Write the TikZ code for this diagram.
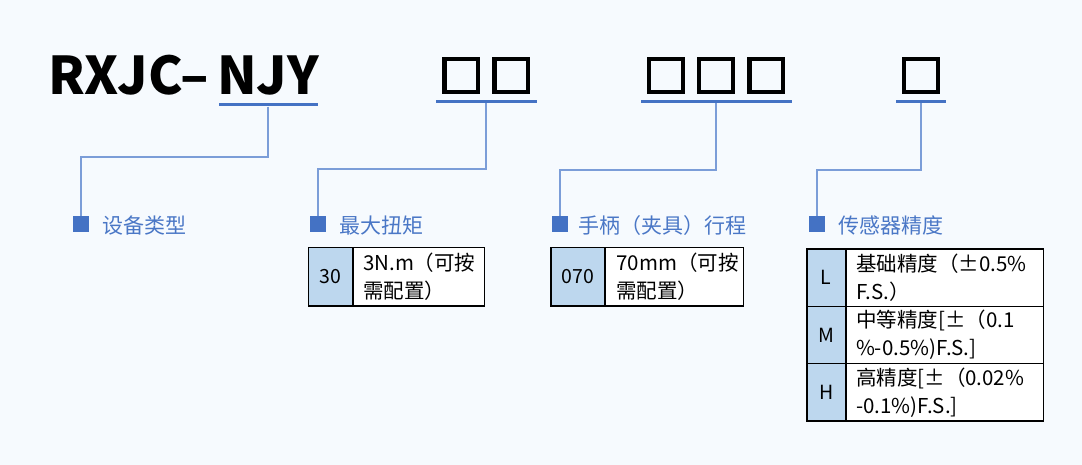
\documentclass[tikz,border=0pt]{standalone}
\usepackage{fontspec}
\newfontfamily\cjk{Noto Sans CJK SC}
\definecolor{bgcol}{HTML}{F6FAFE}
\definecolor{accent}{HTML}{4472C4}
\definecolor{conncol}{HTML}{7B9DD8}
\definecolor{labelcol}{HTML}{4A77C6}
\definecolor{cellcol}{HTML}{BDD7EE}
\begin{document}
\begin{tikzpicture}[x=1pt,y=-1pt,
  titletext/.style={font=\cjk\bfseries\fontsize{52}{56}\selectfont,inner sep=0pt,anchor=base west,text=black},
  ubar/.style={fill=accent,draw=none,minimum height=3pt,inner sep=0pt},
  connector/.style={draw=conncol,line width=1.8pt},
  marker/.style={fill=accent,draw=none,minimum size=16pt,inner sep=0pt},
  catlabel/.style={text=labelcol,font=\cjk\fontsize{21}{24}\selectfont,anchor=base west,inner sep=0pt},
  slot/.style={draw=black,line width=4.2pt,minimum width=33.5pt,minimum height=32.7pt,inner sep=0pt},
  codecell/.style={draw=black,line width=1.6pt,fill=cellcol,inner sep=0pt,font=\cjk\fontsize{19.5}{22}\selectfont},
  desccell/.style={draw=black,line width=1.6pt,fill=white,inner sep=0pt},
  desctext/.style={anchor=west,inner sep=0pt,align=left,font=\cjk\fontsize{20.5}{28}\selectfont},
]
\fill[bgcol] (0,0) rectangle (1082,465);
\useasboundingbox (0,0) rectangle (1082,465);

% title
\node[titletext] (tA) at (48,95) {RXJC–};
\node[titletext] (tB) at (217,95) {NJY};

% slots
\node[slot] (s21) at (461.2,75.7) {};
\node[slot] (s22) at (511.2,75.7) {};
\node[slot] (s31) at (665.9,75.5) {};
\node[slot] (s32) at (715.9,75.5) {};
\node[slot] (s33) at (766.2,75.5) {};
\node[slot] (s41) at (920.9,75.5) {};

% underlines
\node[ubar,minimum width=98.7pt] (u1) at (268.35,105) {};
\node[ubar,minimum width=100.7pt] (u2) at (486.35,101.3) {};
\node[ubar,minimum width=150.7pt] (u3) at (716.35,101.3) {};
\node[ubar,minimum width=50pt] (u4) at (921,101.3) {};

% markers
\node[marker] (m1) at (81.2,224.5) {};
\node[marker] (m2) at (318,224.5) {};
\node[marker] (m3) at (559.8,224.5) {};
\node[marker] (m4) at (817,224.5) {};

% bends
\coordinate (k1) at (81.2,157.3);
\coordinate (k2) at (318,169.2);
\coordinate (k3) at (559.8,170);
\coordinate (k4) at (817,170);

\draw[connector] (u1.south) |- (k1) -- (m1.north);
\draw[connector] (u2.south) |- (k2) -- (m2.north);
\draw[connector] (u3.south) |- (k3) -- (m3.north);
\draw[connector] (u4.south) |- (k4) -- (m4.north);

% labels
\node[catlabel] (l1) at (102.3,233.5) {设备类型};
\node[catlabel] (l2) at (339,233.5) {最大扭矩};
\node[catlabel] (l3) at (578.3,233.5) {手柄（夹具）行程};
\node[catlabel] (l4) at (838.3,233.5) {传感器精度};

% table 1
\node[codecell,minimum width=44.4pt,minimum height=58.3pt] (a1) at (330.5,276.85) {30};
\node[desccell,minimum width=131.6pt,minimum height=58.3pt] (b1) at (418.5,276.85) {};
\node[desctext] (bt1) at ([xshift=11pt]b1.west) {3N.m（可按\\需配置）};

% table 2
\node[codecell,minimum width=54.3pt,minimum height=58.3pt] (a2) at (577.85,276.85) {070};
\node[desccell,minimum width=138.3pt,minimum height=58.3pt] (b2) at (674.15,276.85) {};
\node[desctext] (bt2) at ([xshift=12pt]b2.west) {70mm（可按\\需配置）};

% table 3
\node[codecell,minimum width=39pt,minimum height=57.3pt] (aL) at (826.2,277.65) {L};
\node[desccell,minimum width=197.6pt,minimum height=57.3pt] (bL) at (944.5,277.65) {};
\node[desctext] (btL) at ([xshift=11pt]bL.west) {基础精度（±0.5\%\\F.S.）};

\node[codecell,minimum width=39pt,minimum height=57.3pt] (aM) at (826.2,334.95) {M};
\node[desccell,minimum width=197.6pt,minimum height=57.3pt] (bM) at (944.5,334.95) {};
\node[desctext] (btM) at ([xshift=11pt]bM.west) {中等精度[±（0.1\\\%-0.5\%)F.S.]};

\node[codecell,minimum width=39pt,minimum height=57.3pt] (aH) at (826.2,392.25) {H};
\node[desccell,minimum width=197.6pt,minimum height=57.3pt] (bH) at (944.5,392.25) {};
\node[desctext] (btH) at ([xshift=11pt]bH.west) {高精度[±（0.02\%\\-0.1\%)F.S.]};
\end{tikzpicture}
\end{document}
